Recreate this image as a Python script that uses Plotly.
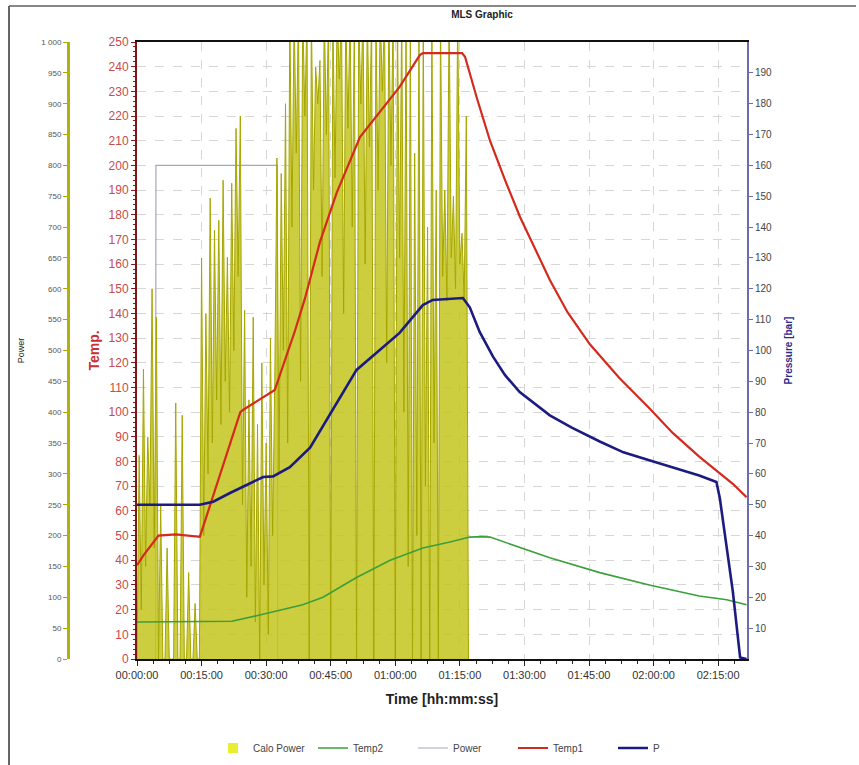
import plotly.graph_objects as go

# ---- time axis (minutes from start) ----
x_tick_minutes = [0, 15, 30, 45, 60, 75, 90, 105, 120, 135]
x_tick_labels = ["00:00:00", "00:15:00", "00:30:00", "00:45:00", "01:00:00",
                 "01:15:00", "01:30:00", "01:45:00", "02:00:00", "02:15:00"]

# ---- calorimeter power [W], sampled every 0.5 min ----
calo_step = 0.5
calo_power = [
    # 00:00 - 00:04:30
    0, 330, 80, 470, 150, 360, 250, 600, 180, 554,
    # 00:05 - 00:14
    0, 250, 0, 0, 180, 0, 0, 0, 415, 0, 0, 395, 0, 0, 140, 0, 0, 90, 0,
    # 00:14:30 - 00:22
    0, 650, 200, 560, 300, 747, 350, 695, 420, 711, 380, 776, 450, 651, 400, 771,
    # 00:22:30 - 00:30
    500, 860, 620, 880, 250, 565, 100, 420, 150, 554, 60, 380, 0, 480, 120, 350,
    # 00:30:30 - 00:35
    40, 520, 200, 450, 812, 300, 787, 500, 900, 350,
    # 00:35:30 - 01:01
    1050, 700, 1050, 820, 1050, 450, 1050, 880, 1050, 0, 1050, 760, 960, 900,
    970, 620, 1050, 850, 1050, 0, 1050, 780, 1050, 940, 1050, 560, 1050, 860,
    1050, 700, 1050, 0, 1050, 900, 1050, 640, 1050, 830, 1050, 0, 1050, 760,
    1050, 920, 1050, 480, 1050, 800, 1050, 0, 1050, 650,
    # 01:01:30 - 01:17
    1050, 400, 1050, 150, 1050, 0, 820, 200, 1050, 0, 1050, 280, 700, 0,
    1050, 350, 760, 0, 1050, 620, 760, 580, 1050, 650, 750, 600, 1050, 640,
    690, 580, 880, 0,
]
calo_time = [i * calo_step for i in range(len(calo_power))]

# ---- power set point [W] ----
power_time = [0, 4.3, 4.4, 32.6, 32.7, 77.0]
power_set = [0, 0, 800, 800, 0, 0]

# ---- Temp1 [°C] ----
temp1_time = [0, 1.5, 5.0, 9.0, 14.6, 24.0, 24.7, 29.3, 32.0, 36.7, 39.0, 42.5,
              46.4, 51.8, 56.4, 61.0, 65.7, 66.4, 75.5, 76.2, 79.0, 82.0, 85.5,
              89.0, 95.9, 100.0, 105.2, 112.0, 118.8, 124.5, 130.6, 135.3,
              138.4, 141.6]
temp1 = [38, 42, 50, 50.5, 49.5, 100, 101, 106, 109, 133, 146, 169,
         189, 211.5, 221.6, 231.8, 244.7, 245.5, 245.5, 244, 227, 210, 194,
         179, 153.6, 140.5, 127.5, 114, 102, 91.5, 82, 75.3,
         71, 65.6]

# ---- Temp2 [°C] ----
temp2_time = [0, 14.6, 22.0, 28.5, 35.5, 38.5, 43.2, 51.0, 58.8, 66.4, 72.7,
              77.3, 80.0, 82.0, 95.9, 107.5, 119.0, 130.6, 137.0, 141.6]
temp2 = [15, 15, 15.3, 17.8, 20.7, 22, 25, 33, 40, 45, 47.4,
         49.4, 49.6, 49.4, 41, 35, 30, 25.5, 24, 22]

# ---- pressure P [bar] ----
p_time = [0, 14.6, 17.7, 21.6, 29.3, 31.6, 35.5, 37.2, 40.2, 51.0, 61.0, 66.4,
          68.7, 75.7, 77.3, 79.6, 82.7, 85.5, 88.9, 95.9, 101.0, 107.5, 113.0,
          118.8, 124.5, 130.6, 134.6, 135.4, 138.4, 140.1, 141.6]
pressure = [50, 50, 51, 53.8, 59, 59.2, 62.2, 64.5, 68.5, 93.7, 105.7, 114.7,
            116.4, 117, 114, 106, 98, 92, 86.5, 79, 75, 70.5, 67,
            64.5, 62, 59.5, 57.4, 52, 22, 0.5, 0]

pressure_ticks = list(range(10, 200, 10))

FONT = "Arial, Liberation Sans, sans-serif"

fig = go.Figure()

# power traces sit on the base y axis so the temperatures and pressure draw above them
fig.add_trace(go.Scatter(
    x=power_time, y=power_set, name="Power", yaxis="y", mode="lines",
    line=dict(color="#a4a8b8", width=1.2), legendrank=3,
))
fig.add_trace(go.Scatter(
    x=calo_time, y=calo_power, name="Calo Power", yaxis="y", mode="lines",
    line=dict(color="#a6a600", width=1), fill="tozeroy",
    fillcolor="rgba(196,196,30,0.85)", showlegend=False, legendgroup="calo",
))
# legend entry for the calorimeter power (square swatch)
fig.add_trace(go.Scatter(
    x=[None], y=[None], name="Calo Power", mode="markers", legendgroup="calo",
    marker=dict(symbol="square", size=10, color="#e8ee30"), legendrank=1,
))
fig.add_trace(go.Scatter(
    x=temp2_time, y=temp2, name="Temp2", yaxis="y2", mode="lines",
    line=dict(color="#3aa03a", width=1.6), legendrank=2,
))
fig.add_trace(go.Scatter(
    x=temp1_time, y=temp1, name="Temp1", yaxis="y2", mode="lines",
    line=dict(color="#d42a1e", width=2.2), legendrank=4,
))
fig.add_trace(go.Scatter(
    x=p_time, y=pressure, name="P", yaxis="y3", mode="lines",
    line=dict(color="#1c1c80", width=2.6), legendrank=5,
))

L, R, T, B = 20, 112, 42, 106
W, H = 859, 765
pw = W - L - R
ph = H - T - B
dom0 = (137 - L) / pw


def px_x(v):
    return (v - L) / pw


def px_y(v):
    return (H - B - v) / ph


fig.update_layout(
    width=W, height=H,
    margin=dict(l=L, r=R, t=T, b=B, autoexpand=False),
    paper_bgcolor="white", plot_bgcolor="white",
    separators=". ",
    font=dict(family=FONT, size=11, color="#333"),
    title=dict(text="<b>MLS Graphic</b>", x=px_x(482), xref="paper",
               xanchor="center", y=1 - 14 / H, yanchor="middle",
               font=dict(size=10, color="#222")),
    xaxis=dict(
        domain=[dom0, 1], range=[0, 141.7], anchor="y2", automargin=False,
        tickvals=x_tick_minutes, ticktext=x_tick_labels,
        tickfont=dict(size=11, color="#333"),
        ticks="outside", ticklen=5, tickcolor="#222",
        minor=dict(dtick=3.75, ticks="outside", ticklen=3, tickcolor="#222"),
        showline=True, linecolor="#111", linewidth=2, mirror=True,
        showgrid=True, gridcolor="#d6d6d6", griddash="dash", zeroline=False,
        title=dict(text="<b>Time [hh:mm:ss]</b>", font=dict(size=14, color="#222"),
                   standoff=14),
    ),
    # power axis, free-standing at the far left
    yaxis=dict(
        range=[0, 1000], dtick=50, side="left", automargin=False,
        anchor="free", position=px_x(68), separatethousands=True,
        tickfont=dict(size=8, color="#555"),
        ticks="outside", ticklen=4, tickcolor="#a8a800",
        showline=True, linecolor="#b0b010", linewidth=3,
        showgrid=False, zeroline=False,
        title=dict(text="Power", font=dict(size=9, color="#222"), standoff=14),
    ),
    # temperature axis on the plot's left edge
    yaxis2=dict(
        range=[0, 250], dtick=10, overlaying="y", side="left", anchor="x",
        automargin=False,
        tickfont=dict(size=12, color="#c84a4a"),
        ticks="outside", ticklen=4, tickcolor="#8b1a1a",
        minor=dict(dtick=2, ticks="outside", ticklen=2, tickcolor="#8b1a1a"),
        showline=True, linecolor="#7a1818", linewidth=2,
        showgrid=True, gridcolor="#d6d6d6", griddash="dash", zeroline=False,
        title=dict(text="<b>Temp.</b>", font=dict(size=14, color="#c83030"),
                   standoff=6),
    ),
    yaxis3=dict(
        range=[0, 200], tickvals=pressure_ticks, overlaying="y", side="right",
        anchor="x", automargin=False,
        tickfont=dict(size=10, color="#444"),
        ticks="outside", ticklen=4, tickcolor="#6c6cb0",
        showline=True, linecolor="#6c6cb0", linewidth=2,
        showgrid=False, zeroline=False,
        title=dict(text="<b>Pressure [bar]</b>", font=dict(size=10, color="#2a2a8a"),
                   standoff=14),
    ),
    legend=dict(
        orientation="h", x=px_x(213), xanchor="left",
        y=px_y(748), yanchor="middle", itemwidth=30,
        font=dict(size=10, color="#444"), entrywidth=55, entrywidthmode="pixels",
        bgcolor="rgba(0,0,0,0)",
    ),
    shapes=[
        dict(type="line", xref="paper", yref="paper",
             x0=px_x(9), x1=px_x(856), y0=px_y(6), y1=px_y(6),
             line=dict(color="#888", width=2)),
        dict(type="line", xref="paper", yref="paper",
             x0=px_x(9), x1=px_x(9), y0=px_y(6), y1=px_y(765),
             line=dict(color="#666", width=2)),
    ],
)

fig.write_html("out.html")
